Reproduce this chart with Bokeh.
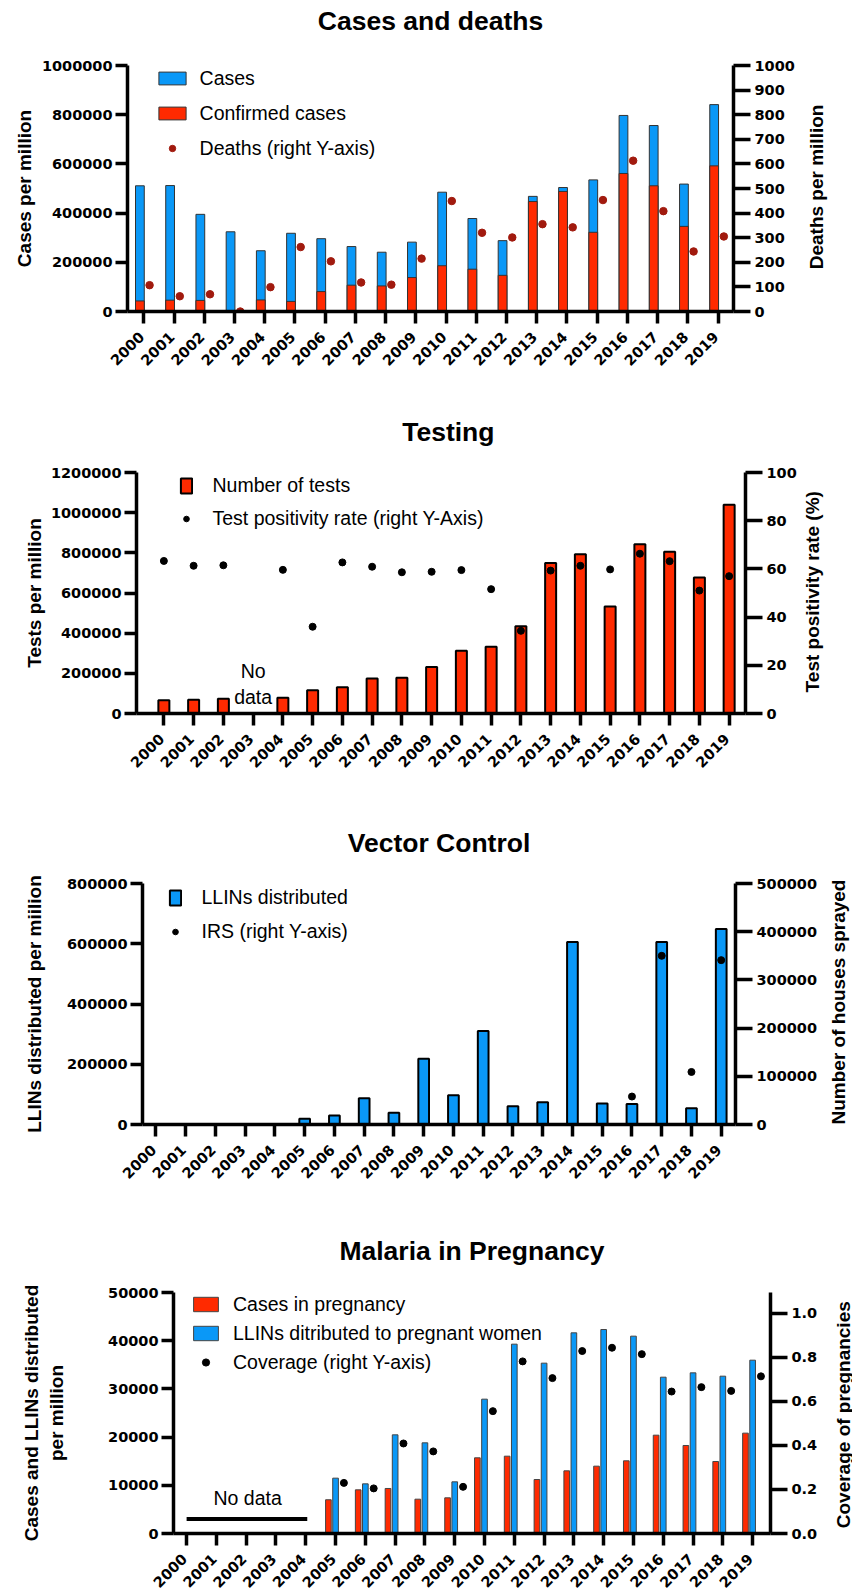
from math import pi
from bokeh.plotting import figure
from bokeh.models import (Range1d, LinearAxis, FixedTicker, Label, Legend, LegendItem,
                          NumeralTickFormatter)
from bokeh.embed import file_html
from bokeh.resources import INLINE

# ---------------- data ----------------
years = list(range(2000, 2020))
NB = "\u00a0"
THIN = "\u2009"
year_labels = {y: str(y) + THIN for y in years}

# Panel 1: Cases and deaths
cases = [511000, 512000, 395000, 324000, 247000, 318000, 296000, 264000, 241000, 282000,
         485000, 378000, 288000, 468000, 504000, 535000, 797000, 756000, 518000, 841000]
confirmed = [43000, 46000, 45000, 0, 47000, 41000, 81000, 107000, 104000, 138000,
             186000, 172000, 147000, 447000, 488000, 322000, 561000, 511000, 346000, 592000]
deaths = [107, 62, 70, 0, 99, 262, 204, 118, 109, 215,
          449, 320, 301, 355, 342, 453, 613, 408, 244, 305]

# Panel 2: Testing (no data for 2003)
test_years = [2000, 2001, 2002, 2004, 2005, 2006, 2007, 2008, 2009, 2010,
              2011, 2012, 2013, 2014, 2015, 2016, 2017, 2018, 2019]
tests = [66000, 68000, 73000, 78000, 116000, 131000, 174000, 178000, 232000, 312000,
         332000, 435000, 750000, 793000, 533000, 843000, 805000, 677000, 1039000]
positivity = [63.3, 61.3, 61.5, 59.6, 36.0, 62.7, 60.9, 58.6, 58.8, 59.5,
              51.6, 34.3, 59.3, 61.3, 59.8, 66.3, 63.2, 51.0, 57.0]

# Panel 3: Vector control
llins = [0, 0, 0, 0, 0, 18800, 29800, 87000, 38600, 218000,
         97000, 310000, 60700, 74000, 606000, 69500, 68400, 606000, 54000, 649000]
irs_years = [2016, 2017, 2018, 2019]
irs = [58000, 350000, 109000, 341000]

# Panel 4: Malaria in pregnancy
preg_years = list(range(2005, 2020))
preg_cases = [7000, 9060, 9340, 7120, 7400, 15700, 16040, 11200, 13000, 13970,
              15080, 20400, 18260, 14940, 20820]
preg_llins = [11480, 10300, 20470, 18810, 10720, 27870, 39280, 35340, 41630, 42320,
              40940, 32430, 33330, 32640, 35960]
preg_cov = [0.230, 0.205, 0.409, 0.373, 0.212, 0.556, 0.782, 0.706, 0.829, 0.844,
            0.815, 0.645, 0.665, 0.648, 0.714]
nodata_x = [2000, 2004.05]
nodata_y = [3000, 3000]

BLUE = "#0a98f7"
RED = "#ff2a00"
DRED = "#a11a0e"
TICK_FONT = "DejaVu Sans"
TXT_FONT = "Liberation Sans"
PAGE_W = 852


# ---------------- helpers ----------------
def make_fig(spec, fig_top, yr, yr2, height, title, title_standoff):
    L, T, W, H, xr = spec["L"], spec["T"], spec["W"], spec["H"], spec["xr"]
    p = figure(frame_width=W, frame_height=H, title=None,
               x_range=Range1d(*xr), y_range=Range1d(*yr),
               min_border_left=L, min_border_top=T - fig_top,
               min_border_right=PAGE_W - L - W,
               min_border_bottom=height - (T - fig_top) - H,
               output_backend="svg", toolbar_location=None, tools="")
    p.extra_y_ranges = {"r": Range1d(*yr2)}
    p.add_layout(LinearAxis(y_range_name="r"), "right")
    p.grid.visible = False
    p.outline_line_color = None
    p.background_fill_color = "white"
    p.border_fill_color = "white"
    for ax in p.axis:
        ax.axis_line_width = 3.5
        ax.axis_line_color = "black"
        ax.major_tick_line_width = 3.5
        ax.major_tick_line_color = "black"
        ax.major_tick_in = 0
        ax.major_tick_out = 12
        ax.minor_tick_line_color = None
        ax.major_label_text_font = TICK_FONT
        ax.major_label_text_font_style = "bold"
        ax.major_label_text_font_size = "14.5px"
        ax.major_label_text_color = "black"
        ax.major_label_standoff = 3
        ax.axis_label_text_font = TXT_FONT
        ax.axis_label_text_font_style = "bold"
        ax.axis_label_text_font_size = "19px"
        ax.axis_label_text_color = "black"
    ry = p.yaxis[1]
    ry.major_tick_out = 17
    ry.major_label_standoff = 4
    ry.axis_label_orientation = pi / 2
    ry.axis_label_align = "start"
    p.xaxis.ticker = FixedTicker(ticks=years)
    p.xaxis.major_label_overrides = year_labels
    p.xaxis.major_label_orientation = pi / 4
    p.xaxis.major_label_standoff = 9
    # chart title drawn as the label of an invisible top axis
    tax = LinearAxis(ticker=FixedTicker(ticks=[]), axis_label=title,
                     axis_line_color=None, major_tick_line_color=None,
                     minor_tick_line_color=None, major_tick_out=0, major_tick_in=0,
                     major_label_standoff=0, major_label_text_font_size="0px",
                     axis_label_standoff=title_standoff,
                     axis_label_text_font=TXT_FONT, axis_label_text_font_size="26.5px",
                     axis_label_text_font_style="bold", axis_label_text_color="black")
    p.add_layout(tax, "above")
    return p


def right_label(p, text, pad):
    # right-axis title reads bottom-to-top, anchored at its start; pad centres it
    p.yaxis[1].axis_label = NB * pad + text


def add_legend(p, spec, items, x0, top, gw, gh, standoff, pitch):
    ih = 23
    n = len(items)
    lh = n * ih + (n - 1) * (pitch - ih)
    vx = x0 - spec["L"]
    vy = (spec["T"] + spec["H"]) - (top + lh)
    leg = Legend(items=items, location=(vx, vy), orientation="vertical",
                 glyph_width=int(gw), glyph_height=int(gh), label_standoff=int(standoff),
                 label_height=ih, spacing=int(pitch - ih), padding=0, margin=0,
                 border_line_alpha=0, background_fill_alpha=0,
                 label_text_font=TXT_FONT, label_text_font_size="19.5px",
                 label_text_color="black")
    p.add_layout(leg)


# ---------------- panel 1 ----------------
s1 = dict(L=127, T=65, W=606, H=246, xr=(1999.46, 2019.51))
p1 = make_fig(s1, 0, (0, 1000000), (0, 1000), 395, "Cases and deaths", 30)
p1.yaxis[0].ticker = FixedTicker(ticks=list(range(0, 1000001, 200000)))
p1.yaxis[0].formatter = NumeralTickFormatter(format="0")
p1.yaxis[1].ticker = FixedTicker(ticks=list(range(0, 1001, 100)))
p1.yaxis[0].axis_label = "Cases per million"
p1.yaxis[0].axis_label_standoff = 4
right_label(p1, "Deaths per million", 8)
p1.yaxis[1].axis_label_standoff = 19
x_bar1 = [y - 0.13 for y in years]
x_dot1 = [y + 0.19 for y in years]
r_cases = p1.vbar(x=x_bar1, top=cases, width=0.29, fill_color=BLUE, line_color="#333333", line_width=1)
r_conf = p1.vbar(x=x_bar1, top=confirmed, width=0.29, fill_color=RED, line_color="#333333", line_width=1)
r_deaths = p1.scatter(x=x_dot1, y=deaths, y_range_name="r", size=7.5, fill_color=DRED, line_color=DRED)
add_legend(p1, s1, [LegendItem(label="Cases", renderers=[r_cases]),
                    LegendItem(label="Confirmed cases", renderers=[r_conf]),
                    LegendItem(label="Deaths (right Y-axis)", renderers=[r_deaths])],
           x0=154.6, top=66.5, gw=34, gh=16, standoff=11, pitch=35)

# ---------------- panel 2 ----------------
s2 = dict(L=136, T=472, W=609, H=241, xr=(1999.08, 2019.55))
p2 = make_fig(s2, 395, (0, 1200000), (0, 100), 410, NB + NB + "Testing", 26)
p2.yaxis[0].ticker = FixedTicker(ticks=list(range(0, 1200001, 200000)))
p2.yaxis[0].formatter = NumeralTickFormatter(format="0")
p2.yaxis[1].ticker = FixedTicker(ticks=list(range(0, 101, 20)))
p2.yaxis[0].axis_label = "Tests per million"
p2.yaxis[0].axis_label_standoff = 3
right_label(p2, "Test positivity rate (%)", 4)
p2.yaxis[1].axis_label_standoff = 13
r_tests = p2.vbar(x=test_years, top=tests, width=0.37, fill_color=RED, line_color="black", line_width=2)
r_pos = p2.scatter(x=test_years, y=positivity, y_range_name="r", size=7, fill_color="black", line_color="black")
add_legend(p2, s2, [LegendItem(label="Number of tests", renderers=[r_tests]),
                    LegendItem(label="Test positivity rate (right Y-Axis)", renderers=[r_pos])],
           x0=178.5, top=473.5, gw=14, gh=19, standoff=20, pitch=33)
p2.add_layout(Label(x=2003, y=147000, text="No\ndata", text_align="center", text_baseline="middle",
                    text_font=TXT_FONT, text_font_size="19.5px", text_color="black"))

# ---------------- panel 3 ----------------
s3 = dict(L=142, T=883, W=593, H=241, xr=(1999.55, 2019.48))
p3 = make_fig(s3, 805, (0, 800000), (0, 500000), 415, "Vector Control", 26)
p3.yaxis[0].ticker = FixedTicker(ticks=list(range(0, 800001, 200000)))
p3.yaxis[0].formatter = NumeralTickFormatter(format="0")
p3.yaxis[1].ticker = FixedTicker(ticks=list(range(0, 500001, 100000)))
p3.yaxis[1].formatter = NumeralTickFormatter(format="0")
p3.yaxis[0].axis_label = "LLINs distributed per miilion"
p3.yaxis[0].axis_label_standoff = 19
right_label(p3, "Number of houses sprayed", 0)
p3.yaxis[1].axis_label_standoff = 18
r_llin = p3.vbar(x=years, top=llins, width=0.36, fill_color=BLUE, line_color="black", line_width=2)
r_irs = p3.scatter(x=irs_years, y=irs, y_range_name="r", size=7, fill_color="black", line_color="black")
add_legend(p3, s3, [LegendItem(label="LLINs distributed", renderers=[r_llin]),
                    LegendItem(label="IRS (right Y-axis)", renderers=[r_irs])],
           x0=167.5, top=885.5, gw=14, gh=19, standoff=20, pitch=34)

# ---------------- panel 4 ----------------
s4 = dict(L=173, T=1292, W=597, H=241, xr=(1999.56, 2019.6))
p4 = make_fig(s4, 1220, (0, 50000), (0, 1.095), 371, "Malaria in Pregnancy", 27)
p4.yaxis[0].ticker = FixedTicker(ticks=list(range(0, 50001, 10000)))
p4.yaxis[0].formatter = NumeralTickFormatter(format="0")
p4.yaxis[1].ticker = FixedTicker(ticks=[0.0, 0.2, 0.4, 0.6, 0.8, 1.0])
p4.yaxis[1].formatter = NumeralTickFormatter(format="0.0")
p4.yaxis[0].axis_label = "Cases and LLINs distributed\nper million"
p4.yaxis[0].axis_label_standoff = 38
right_label(p4, "Coverage of pregnancies", 1)
p4.yaxis[1].axis_label_standoff = 23
r_pc = p4.vbar(x=[y - 0.24 for y in preg_years], top=preg_cases, width=0.19,
               fill_color=RED, line_color="#444444", line_width=1)
r_pl = p4.vbar(x=preg_years, top=preg_llins, width=0.19,
               fill_color=BLUE, line_color="#444444", line_width=1)
r_cov = p4.scatter(x=[y + 0.28 for y in preg_years], y=preg_cov, y_range_name="r", size=7,
                   fill_color="black", line_color="black")
p4.line(x=nodata_x, y=nodata_y, line_width=4, line_color="black")
add_legend(p4, s4, [LegendItem(label="Cases in pregnancy", renderers=[r_pc]),
                    LegendItem(label="LLINs ditributed to pregnant women", renderers=[r_pl]),
                    LegendItem(label="Coverage (right Y-axis)", renderers=[r_cov])],
           x0=190, top=1292.5, gw=31, gh=18, standoff=12, pitch=29)
p4.add_layout(Label(x=2002.05, y=7300, text="No data", text_align="center", text_baseline="middle",
                    text_font=TXT_FONT, text_font_size="19.5px", text_color="black"))

open("out.html", "w").write(file_html([p1, p2, p3, p4], INLINE))
